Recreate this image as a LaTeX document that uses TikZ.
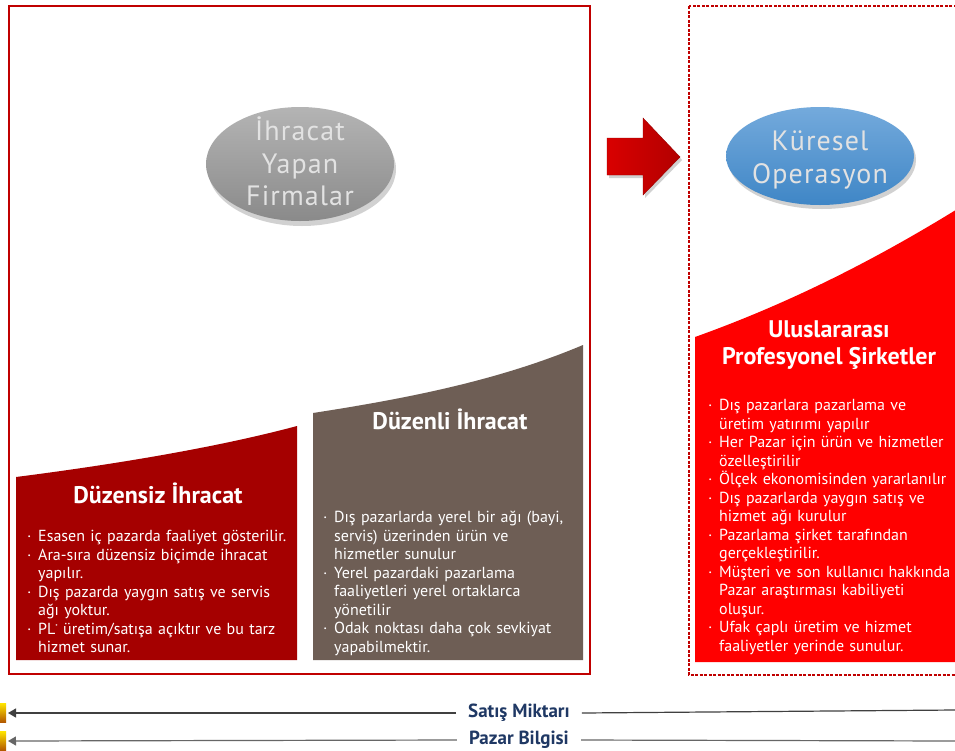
\documentclass[tikz,border=0pt]{standalone}
\usepackage{fontspec}
\setmainfont{PT Sans}
\newfontfamily\spacedfont[LetterSpace=4]{PT Sans}
\usetikzlibrary{arrows.meta,shapes.geometric}
\definecolor{frame}{HTML}{C00000}
\definecolor{darkred}{HTML}{A50000}
\definecolor{brown}{HTML}{6E5E55}
\definecolor{brightred}{HTML}{FF0000}
\definecolor{navy}{HTML}{1F3864}
\definecolor{gtop}{HTML}{B4B4B4}
\definecolor{gbot}{HTML}{8A8A8A}
\definecolor{btop}{HTML}{74AADC}
\definecolor{bbot}{HTML}{3F86C6}
\definecolor{etext}{HTML}{E2E2E2}
\newcommand{\bi}{\par\noindent\hangindent=11pt\hangafter=1\makebox[11pt][l]{·}}
\tikzset{
  oval/.style={ellipse, minimum width=188pt, inner sep=0pt},
  ovaltext/.style={align=center, text=etext, inner sep=0pt,
    font=\spacedfont\fontsize{28}{32.5}\selectfont},
  title/.style={text=white, align=center, font=\bfseries\fontsize{24}{27}\selectfont},
  bullets/.style={text=white, anchor=north west, text width=300pt, inner sep=0pt,
    font=\fontsize{16}{18.5}\selectfont},
  lbl/.style={text=navy, font=\bfseries\fontsize{19}{20}\selectfont, inner xsep=12pt, inner ysep=2pt},
  conn/.style={line width=1.2pt, draw=black!75},
}
\begin{document}
\begin{tikzpicture}[x=1pt,y=-1pt]
\useasboundingbox (0,0) rectangle (955,750);
\clip (0,0) rectangle (955,750);
\fill[white] (0,0) rectangle (955,750);

% frames
\draw[frame, line width=1.5pt] (9,6) rectangle (590,674);
\draw[frame, line width=1.2pt, dash pattern=on 3pt off 1.5pt] (689,6) rectangle (975,675);

% stepped shapes
\fill[darkred] (16,660) -- (16,477) .. controls (110,465) and (215,448) .. (297,426) -- (297,660) -- cycle;
\fill[brown] (313,660) -- (313,413) .. controls (410,398) and (500,380) .. (583,345) -- (583,660) -- cycle;
\fill[brightred] (695,662) -- (695,337) .. controls (790,303) and (880,258) .. (975,198) -- (975,662) -- cycle;

% ovals
\fill[black, opacity=0.18] (302,169) ellipse (94pt and 57pt);
\node[oval, minimum height=114pt, top color=gtop, bottom color=gbot] (exp) at (300,164) {};
\node[ovaltext] (expt) at (300,161.5) {İhracat\\Yapan\\Firmalar};
\fill[black, opacity=0.18] (822,160) ellipse (94pt and 49pt);
\node[oval, minimum height=98pt, top color=btop, bottom color=bbot] (glob) at (820,156) {};
\node[ovaltext] (globt) at (820,160) {Küresel\\Operasyon};

% big arrow
\fill[black, opacity=0.18] (609,141) -- (645,141) -- (645,121) -- (682,160) -- (645,198) -- (645,178) -- (609,178) -- cycle;
\shade[left color=red!85!black, right color=red!70!black, draw=red!60!black, line width=0.4pt]
  (607,138) -- (643,138) -- (643,118) -- (680,157) -- (643,195) -- (643,175) -- (607,175) -- cycle;

% titles
\node[title] (t1) at (158,493) {Düzensiz İhracat};
\node[title] (t2) at (450,419) {Düzenli İhracat};
\node[title] (t3) at (829,345) {Uluslararası\\Profesyonel Şirketler};

% bullet lists
\node[bullets] (b1) at (27,523) {%
\bi Esasen iç pazarda faaliyet gösterilir.
\bi Ara-sıra düzensiz biçimde ihracat\newline yapılır.
\bi Dış pazarda yaygın satış ve servis\newline ağı yoktur.
\bi PL\raisebox{5pt}{\fontsize{7}{7}\selectfont*} üretim/satışa açıktır ve bu tarz\newline hizmet sunar.\par};
\node[bullets] (b2) at (323,504) {%
\bi Dış pazarlarda yerel bir ağı (bayi,\newline servis) üzerinden ürün ve\newline hizmetler sunulur
\bi Yerel pazardaki pazarlama\newline faaliyetleri yerel ortaklarca\newline yönetilir
\bi Odak noktası daha çok sevkiyat\newline yapabilmektir.\par};
\node[bullets] (b3) at (708,392) {%
\bi Dış pazarlara pazarlama ve\newline üretim yatırımı yapılır
\bi Her Pazar için ürün ve hizmetler\newline özelleştirilir
\bi Ölçek ekonomisinden yararlanılır
\bi Dış pazarlarda yaygın satış ve\newline hizmet ağı kurulur
\bi Pazarlama şirket tarafından\newline gerçekleştirilir.
\bi Müşteri ve son kullanıcı\hspace{4.5pt}hakkında\newline Pazar araştırması kabiliyeti\newline oluşur.
\bi Ufak çaplı üretim ve hizmet\newline faaliyetler yerinde sunulur.\par};

% bottom axis labels
\shade[top color=yellow!80!orange, bottom color=orange!70!black] (0,703) rectangle (6,722);
\shade[top color=yellow!80!orange, bottom color=orange!70!black] (0,731) rectangle (6,750);
\node[lbl] (sm) at (519,713) {Satış Miktarı};
\node[lbl] (pb) at (519,740) {Pazar Bilgisi};
\coordinate (smL) at (8,713);
\coordinate (smR) at (955,710);
\coordinate (pbL) at (8,741);
\coordinate (pbR) at (955,741);
\draw[conn, -{Triangle[length=8pt,width=9pt]}] (sm.west) -- (smL);
\draw[conn] (sm.east) -- (smR);
\draw[conn, draw=black!60, -{Triangle[length=8pt,width=9pt]}] (pb.west) -- (pbL);
\draw[conn, draw=black!60] (pb.east) -- (pbR);
\end{tikzpicture}
\end{document}
